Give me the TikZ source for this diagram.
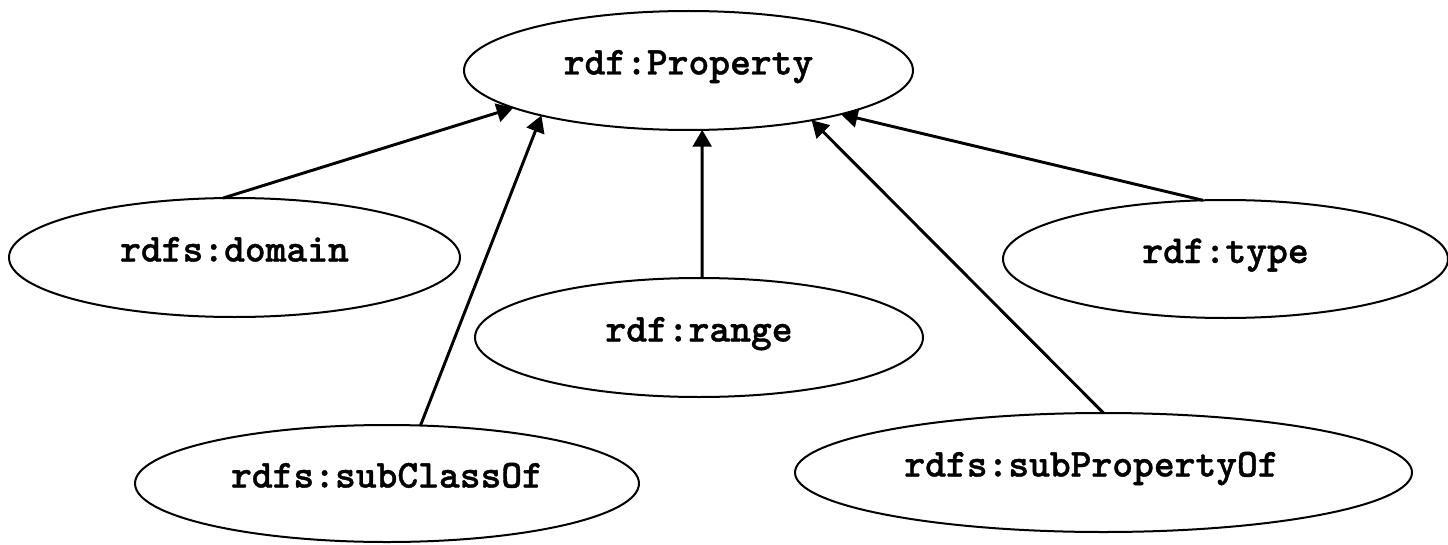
\documentclass[tikz,border=0pt]{standalone}
\usepackage{fontspec}
\newfontfamily\courb{lmmonolt10-bold.otf}[FakeBold=1]
\usetikzlibrary{shapes.geometric,arrows.meta}
\begin{document}
\begin{tikzpicture}[x=0.75pt,y=0.75pt,
  elli/.style={ellipse, draw, line width=1.5pt, inner sep=0pt, outer sep=0pt,
    font=\courb\fontsize{29.7}{34}\selectfont, text height=16pt, text depth=10pt},
  arr/.style={-{Triangle[length=12.5pt,width=14pt]}, line width=2.2pt}]
\fill[white] (0,0) rectangle (1448,544);
\useasboundingbox (0,0) rectangle (1448,544);
\node[elli, minimum width=336.75pt, minimum height=89.25pt] (prop) at (688.5,473.5) {rdf:Property};
\node[elli, minimum width=338.25pt, minimum height=89.25pt] (dom) at (234.5,286.5) {rdfs:domain};
\node[elli, minimum width=336pt, minimum height=89.25pt] (rng) at (699,206.5) {rdf:range};
\node[elli, minimum width=333.75pt, minimum height=88.5pt] (typ) at (1225.5,285) {rdf:type};
\node[elli, minimum width=378pt, minimum height=87.75pt] (sco) at (387,60.5) {rdfs:subClassOf};
\node[elli, minimum width=462.75pt, minimum height=89.25pt] (spo) at (1103.5,71.5) {rdfs:subPropertyOf\hspace*{18pt}};
\draw[arr] (dom.101) -- (prop.192);
\draw[arr] (sco.60) -- (prop.197);
\draw[arr] (rng.87) -- (prop.283);
\draw[arr] (spo.90) -- (prop.338);
\draw[arr] (typ.111) -- (prop.344);
\end{tikzpicture}
\end{document}
